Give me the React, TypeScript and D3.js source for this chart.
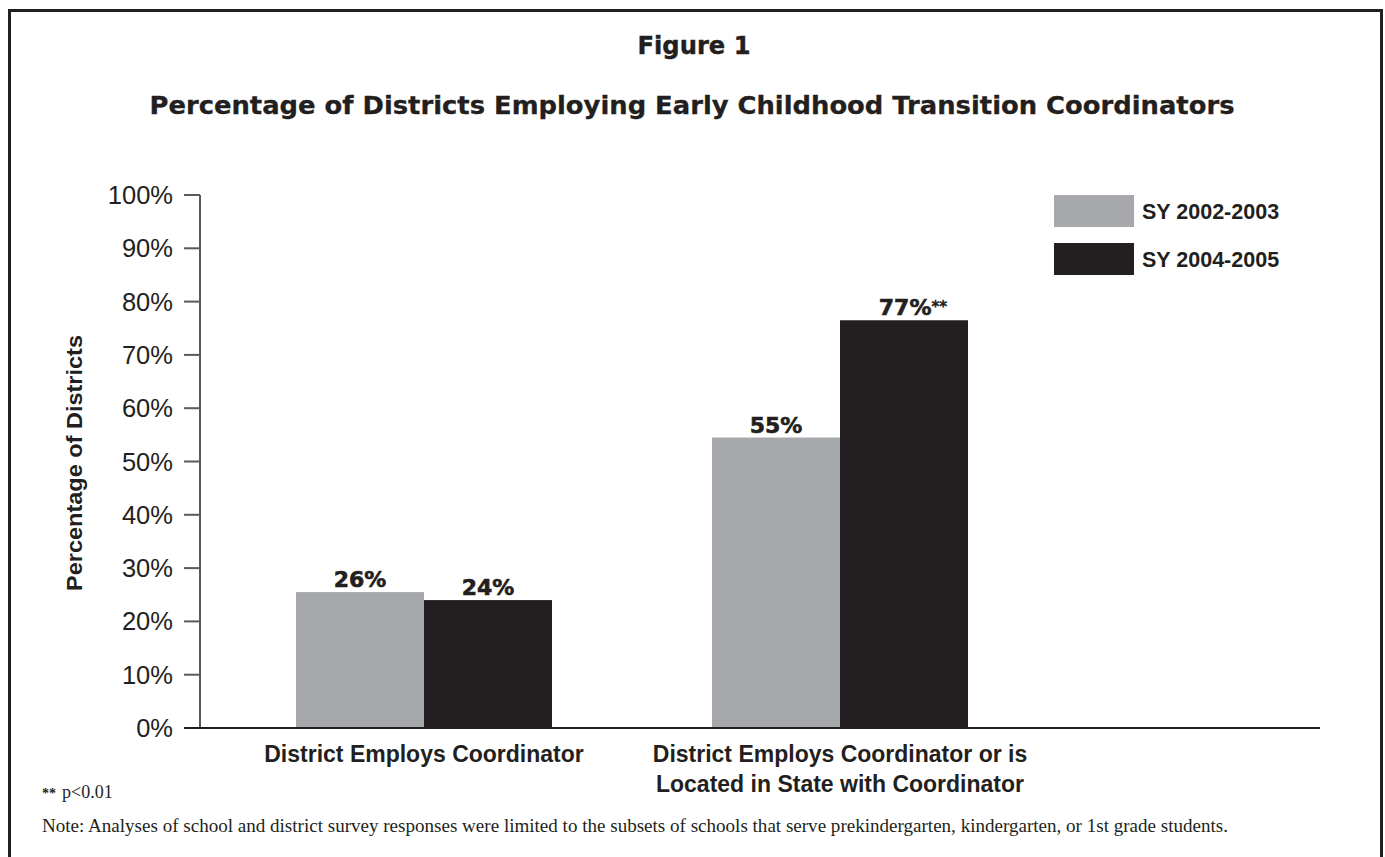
import React from "react";
import * as d3 from "d3";

const categories = ["District Employs Coordinator", "District Employs Coordinator or is|Located in State with Coordinator"];
const seriesNames = ["SY 2002-2003", "SY 2004-2005"];
const seriesColors = ["#a7a8ab", "#231f20"];
const values2002 = [25.5, 54.5];
const values2004 = [24, 76.5];
const valueLabels2002 = ["26%", "55%"];
const valueLabels2004 = ["24%", "77%"];
const significance2004 = ["", "**"];
const yTicks = [0, 10, 20, 30, 40, 50, 60, 70, 80, 90, 100];

const W = 1385;
const H = 857;

export default function App() {
  const y = d3.scaleLinear().domain([0, 100]).range([728, 195]);
  const x0 = d3.scaleBand<string>().domain(categories).range([216, 1048]).padding(0);
  const groupW = 256;
  const x1 = d3.scaleBand<number>().domain([0, 1]).range([0, groupW]).padding(0);
  const series = [values2002, values2004];
  const labels = [valueLabels2002, valueLabels2004];
  const sans = "'Liberation Sans', Arial, sans-serif";
  const heavy = "'DejaVu Sans', 'Liberation Sans', sans-serif";
  const serif = "'Liberation Serif', 'Times New Roman', serif";
  const ink = "#231f20";

  return (
    <svg width={W} height={H} style={{ position: "absolute", left: 0, top: 0 }}>
      <rect x={0} y={0} width={W} height={H} fill="#fff" />
      {/* frame */}
      <path d={`M9.5,${H + 5} V10.5 H1381.5 V${H + 5}`} fill="none" stroke={ink} strokeWidth={3} />

      <text x={694} y={54} textAnchor="middle" fontFamily={heavy} fontWeight={900} fontSize={25} fill={ink} stroke={ink} strokeWidth={0.4} textLength={113} lengthAdjust="spacingAndGlyphs">Figure 1</text>
      <text x={692} y={114} textAnchor="middle" fontFamily={heavy} fontWeight={900} fontSize={24} fill={ink} stroke={ink} strokeWidth={0.3} textLength={1085} lengthAdjust="spacingAndGlyphs">
        Percentage of Districts Employing Early Childhood Transition Coordinators
      </text>

      {/* y axis */}
      <line x1={200} x2={200} y1={y(100)} y2={y(0)} stroke="#5a5a5a" strokeWidth={2} />
      {yTicks.map((t) => (
        <g key={t}>
          <line x1={184} x2={200} y1={y(t)} y2={y(t)} stroke="#5a5a5a" strokeWidth={2} />
          <text x={173} y={y(t) + 9} textAnchor="end" fontFamily={sans} fontSize={25.5} fill={ink}>{t}%</text>
        </g>
      ))}
      <text transform={`translate(82,${463}) rotate(-90)`} textAnchor="middle" fontFamily={sans} fontWeight={700} fontSize={22} fill={ink} textLength={256} lengthAdjust="spacingAndGlyphs">Percentage of Districts</text>

      {/* bars */}
      {categories.map((c, ci) => {
        const gx = (x0(c) as number) + x0.bandwidth() / 2 - groupW / 2;
        return (
          <g key={c}>
            {series.map((s, si) => {
              const bx = gx + (x1(si) as number);
              const bw = x1.bandwidth();
              const cx = bx + bw / 2;
              const sig = si === 1 ? significance2004[ci] : "";
              return (
                <g key={si}>
                  <rect x={bx} y={y(s[ci])} width={bw} height={y(0) - y(s[ci])} fill={seriesColors[si]} />
                  <text x={cx + (sig ? 9 : 0)} y={y(s[ci]) - 5} textAnchor="middle" fontFamily={heavy} fontWeight={900} fontSize={22} fill={ink} stroke={ink} strokeWidth={0.6}>
                    {labels[si][ci]}
                    {sig ? (
                      <tspan fontSize={15} dy={-3} strokeWidth={0.3}>{sig}</tspan>
                    ) : null}
                  </text>
                </g>
              );
            })}
            {c.split("|").map((line, li) => (
              <text key={li} x={(x0(c) as number) + x0.bandwidth() / 2} y={762 + li * 30} textAnchor="middle" fontFamily={sans} fontWeight={700} fontSize={23} fill={ink}>{line}</text>
            ))}
          </g>
        );
      })}

      {/* x baseline */}
      <line x1={184} x2={1320} y1={y(0)} y2={y(0)} stroke={ink} strokeWidth={2} />

      {/* legend */}
      {seriesNames.map((n, i) => (
        <g key={n}>
          <rect x={1054} y={195 + i * 48} width={80} height={32} fill={seriesColors[i]} />
          <text x={1142} y={219 + i * 48} fontFamily={sans} fontWeight={700} fontSize={21.5} fill={ink}>{n}</text>
        </g>
      ))}

      {/* footnotes */}
      <text x={42} y={798} fontFamily={serif} fontSize={18} fill={ink}>
        <tspan fontWeight={700} fontSize={14}>**</tspan>
        <tspan dx={6}>p&lt;0.01</tspan>
      </text>
      <text x={42} y={832} fontFamily={serif} fontSize={19} fill={ink} textLength={1186} lengthAdjust="spacingAndGlyphs">
        Note: Analyses of school and district survey responses were limited to the subsets of schools that serve prekindergarten, kindergarten, or 1st grade students.
      </text>
    </svg>
  );
}
